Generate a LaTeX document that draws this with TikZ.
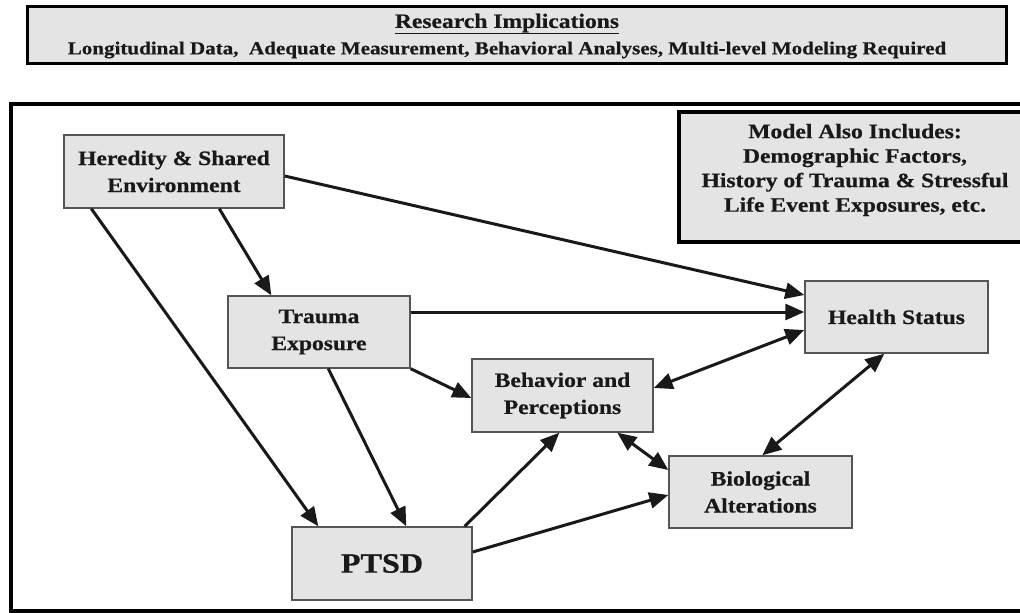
\documentclass[tikz,border=0pt]{standalone}
\usepackage{fontspec}
\setmainfont{Liberation Serif}[FakeStretch=1.15, BoldFeatures={FakeBold=0.6}]
\usetikzlibrary{arrows.meta,calc}
\definecolor{boxfill}{HTML}{E4E4E4}
\definecolor{boxline}{HTML}{555555}
\tikzset{
  nodebox/.style={draw=boxline, line width=1.4pt, fill=boxfill, inner sep=0pt, align=center,
    font=\fontsize{20.5}{27}\selectfont\bfseries, text=black!90},
  arr/.style={line width=3pt, draw=black!90, -{Triangle[length=19pt,width=16pt]}},
  barr/.style={line width=3pt, draw=black!90, {Triangle[length=19pt,width=16pt]}-{Triangle[length=19pt,width=16pt]}},
}
\begin{document}
\begin{tikzpicture}[x=1pt,y=-1pt]
\useasboundingbox (0,0) rectangle (1020,613);
\fill[white] (0,0) rectangle (1020,613);
% top box
\node[draw=black, line width=3pt, fill=boxfill, minimum width=979pt, minimum height=57pt, inner sep=0pt] (top) at (516.5,34.5) {};
\node[font=\fontsize{20.5}{22}\selectfont\bfseries, text=black!90, inner sep=0pt] (rtitle) at (507,24) {\underline{Research Implications}};
\node[font=\fontsize{18.3}{20}\selectfont\bfseries, text=black!90, inner sep=0pt] (rline) at (507,50) {Longitudinal Data,\ \ Adequate Measurement, Behavioral Analyses, Multi-level Modeling Required};
% main frame
\draw[line width=3.5pt, black] (1030,104) -- (11,104) -- (11,611) -- (1030,611);
% model box
\node[draw=black, line width=3.5pt, fill=boxfill, minimum width=352pt, minimum height=130pt, inner sep=0pt] (model) at (855,177) {};
\node[align=center, font=\fontsize{20.5}{24.5}\selectfont\bfseries, text=black!90, inner sep=0pt] (modeltxt) at (855,170) {Model Also Includes:\\Demographic Factors,\\History of Trauma \& Stressful\\Life Event Exposures, etc.};
% nodes
\node[nodebox, minimum width=220pt, minimum height=73pt] (her) at (174,171.5) {Heredity \& Shared\\Environment};
\node[nodebox, minimum width=182pt, minimum height=72pt] (tra) at (319,332) {Trauma\\Exposure};
\node[nodebox, minimum width=183pt, minimum height=72pt] (hea) at (896.5,317) {Health Status};
\node[nodebox, minimum width=181pt, minimum height=73pt] (beh) at (562.5,395.5) {Behavior and\\Perceptions};
\node[nodebox, minimum width=183pt, minimum height=72pt] (bio) at (760.5,492) {Biological\\Alterations};
\node[nodebox, minimum width=180pt, minimum height=73pt, font=\fontsize{28}{30}\selectfont\bfseries] (pts) at (382,563.5) {PTSD};
% connectors
\draw[arr] ([xshift=28pt]her.south west) -- ([xshift=27pt]pts.north west);
\draw[arr] ([xshift=156pt]her.south west) -- ([xshift=44pt]tra.north west);
\draw[arr] ([yshift=-4.5pt]her.east) -- ([yshift=22pt]hea.west);
\draw[arr] ([yshift=20pt]tra.east) -- ([yshift=20pt]tra.east -| hea.west);
\draw[barr] ([yshift=7.5pt]beh.east) -- ([yshift=-13pt]hea.west);
\draw[barr] ([xshift=94pt]bio.north west) -- ([xshift=80pt]hea.south west);
\draw[barr] ([xshift=146pt]beh.south west) -- ([yshift=22pt]bio.west);
\draw[arr] ([xshift=101pt]tra.south west) -- ([xshift=115pt]pts.north west);
\draw[arr] (tra.south east) -- ([yshift=-2.5pt]beh.west);
\draw[arr] ([xshift=-8pt]pts.north east) -- ([xshift=88pt]beh.south west);
\draw[arr] ([yshift=11.5pt]pts.east) -- ([yshift=-3pt]bio.west);
\end{tikzpicture}
\end{document}
